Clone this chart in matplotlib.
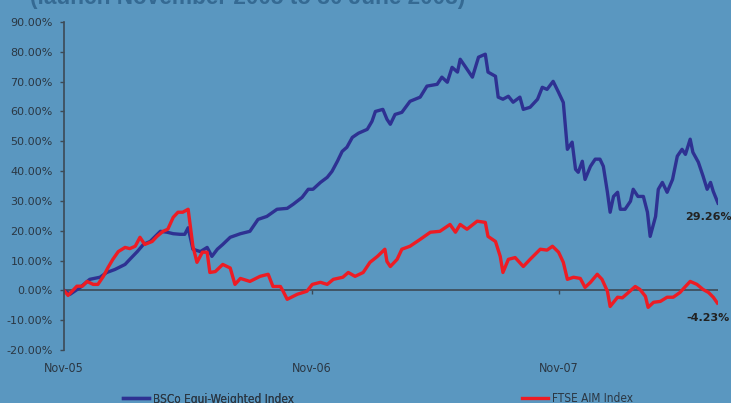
import matplotlib
matplotlib.use('Agg')
import matplotlib.pyplot as plt
import matplotlib.dates as mdates
import pandas as pd

# launch date and days since launch for each reading
launch = pd.Timestamp('2005-11-01')

bsco_days = [0, 9, 24, 38, 53, 63, 75, 90, 97, 108, 117, 127, 142, 152, 161, 171, 178, 183,
             190, 201, 211, 218, 226, 234, 245, 260, 274, 286, 299, 314, 329, 338, 351, 360,
             367, 378, 388, 395, 403, 410, 417, 425, 434, 447, 454, 459, 470, 476, 481, 488,
             498, 510, 525, 535, 550, 557, 565, 572, 580, 584, 591, 602, 611, 621, 625, 636,
             640, 647, 655, 662, 672, 677, 687, 698, 705, 712, 721, 729, 736, 742, 749, 754,
             758, 764, 768, 776, 783, 790, 795, 801, 805, 810, 816, 820, 827, 835, 839, 846,
             854, 860, 864, 872, 876, 882, 889, 897, 904, 911, 916, 923, 927, 935, 942, 948,
             953, 957, 964]
bsco_vals = [0, -1.3, 1.0, 3.7, 4.4, 6.0, 7.0, 8.7, 10.4, 13.0, 15.4, 16.4, 19.8, 19.5, 19.0,
             18.8, 18.8, 21.0, 13.8, 13.0, 14.4, 11.4, 13.8, 15.4, 17.8, 19.0, 19.8, 23.8, 24.8,
             27.2, 27.5, 28.9, 31.2, 33.9, 33.9, 36.2, 37.9, 39.9, 43.3, 46.6, 48.0, 51.3, 52.7,
             54.0, 56.7, 60.0, 60.7, 57.4, 55.7, 59.0, 59.7, 63.4, 64.8, 68.5, 69.1, 71.5, 69.8,
             74.8, 73.2, 77.5, 75.2, 71.5, 78.2, 79.2, 73.2, 71.8, 64.8, 64.1, 65.1, 63.1, 64.8,
             60.7, 61.4, 64.1, 68.1, 67.4, 70.1, 66.4, 63.0, 47.3, 49.7, 40.6, 39.6, 43.3, 37.2,
             41.6, 44.0, 44.0, 41.6, 32.9, 26.2, 31.5, 32.9, 27.2, 27.2, 29.9, 33.9, 31.5, 31.5,
             26.2, 18.1, 24.8, 33.9, 36.2, 32.9, 37.2, 45.0, 47.3, 45.6, 50.7, 46.3, 43.0, 38.3,
             33.9, 36.2, 33.2, 29.26]

aim_days = [0, 6, 19, 27, 34, 43, 50, 58, 65, 72, 80, 90, 97, 105, 112, 119, 130, 137, 146,
            153, 161, 168, 175, 183, 190, 196, 204, 211, 215, 223, 234, 245, 252, 260, 274,
            289, 301, 308, 319, 323, 329, 344, 358, 366, 378, 388, 397, 411, 419, 429, 441,
            451, 462, 473, 476, 481, 491, 498, 510, 525, 540, 554, 569, 577, 584, 594, 609,
            621, 625, 636, 643, 647, 655, 665, 677, 687, 702, 712, 720, 729, 736, 742, 751,
            761, 768, 776, 786, 793, 801, 805, 816, 823, 832, 842, 849, 857, 861, 869, 879,
            889, 898, 908, 916, 923, 933, 942, 950, 957, 963]
aim_vals = [0, -1.7, 1.4, 1.4, 3.0, 2.0, 2.0, 4.7, 7.7, 10.4, 13.0, 14.4, 14.0, 14.8, 17.8,
            15.4, 16.4, 18.1, 19.8, 20.5, 24.5, 26.2, 26.2, 27.2, 14.8, 9.4, 12.8, 12.8, 6.0,
            6.3, 8.7, 7.5, 2.0, 4.0, 3.0, 4.7, 5.4, 1.3, 1.3, -0.3, -3.0, -1.3, -0.3, 2.0, 2.7,
            2.0, 3.7, 4.4, 6.0, 4.7, 6.0, 9.4, 11.4, 13.8, 9.7, 8.0, 10.4, 13.8, 14.8, 17.1,
            19.5, 19.8, 22.1, 19.5, 22.1, 20.5, 23.2, 22.8, 18.1, 16.4, 11.4, 6.0, 10.4, 11.0,
            8.0, 10.4, 13.8, 13.5, 14.8, 12.8, 9.4, 3.7, 4.4, 4.0, 1.0, 2.7, 5.4, 3.7, -0.3,
            -5.4, -2.3, -2.5, -0.7, 1.3, 0.3, -2.0, -5.7, -4.0, -3.7, -2.3, -2.3, -0.7, 1.3,
            3.0, 2.0, 0.3, -0.7, -2.3, -4.23]

y_ticks = [-20, -10, 0, 10, 20, 30, 40, 50, 60, 70, 80, 90]
x_ticks = ['2005-11-01', '2006-11-01', '2007-11-01']
x_labels = ['Nov-05', 'Nov-06', 'Nov-07']

bg = '#5a97c0'
dark = '#2b3743'

bsco_dates = launch + pd.to_timedelta(bsco_days, unit='D')
aim_dates = launch + pd.to_timedelta(aim_days, unit='D')

fig = plt.figure(figsize=(7.31, 4.03), dpi=100)
fig.patch.set_facecolor(bg)
ax = fig.add_axes([64/731, 1 - 350/403, 654/731, 328/403])
ax.set_facecolor(bg)

l1, = ax.plot(bsco_dates, bsco_vals, color='#2e3192', lw=2.4, solid_joinstyle='round')
l2, = ax.plot(aim_dates, aim_vals, color='#ed1c24', lw=2.4, solid_joinstyle='round')

ax.axhline(0, color='#3c4a56', lw=1.2, zorder=1)
ax.set_xlim(launch, launch + pd.Timedelta(days=964))
ax.set_ylim(-20, 90)

for s in ['top', 'right', 'bottom']:
    ax.spines[s].set_visible(False)
ax.spines['left'].set_color('#3c4a56')
ax.spines['left'].set_linewidth(1.2)

ax.set_yticks(y_ticks)
ax.set_yticklabels(['{:.2f}%'.format(v) for v in y_ticks])
ax.tick_params(axis='y', length=3, width=1, color='#3c4a56', pad=5,
               labelsize=8, labelcolor=dark)

# x ticks sit on the zero line, labels at the bottom
ax.set_xticks([])
tick_dates = pd.to_datetime(x_ticks)
ax.vlines(tick_dates[1:], -1.3, 0, color='#3c4a56', lw=1)
for d, lab in zip(tick_dates, x_labels):
    ax.text(mdates.date2num(d), -0.056, lab, transform=ax.get_xaxis_transform(),
            ha='center', va='center', fontsize=9, color=dark,
            family='DejaVu Sans', fontstretch='condensed')

# end values
ax.annotate('{:.2f}%'.format(bsco_vals[-1]), (bsco_dates[-1], bsco_vals[-1]),
            xytext=(-7, -10), textcoords='offset points', ha='center', va='center',
            fontsize=8, fontweight='bold', color='#222222', annotation_clip=False)
ax.annotate('{:.2f}%'.format(aim_vals[-1]), (aim_dates[-1], aim_vals[-1]),
            xytext=(-7, -11), textcoords='offset points', ha='center', va='center',
            fontsize=8, fontweight='bold', color='#222222', annotation_clip=False)

fig.text(30/731, 1 - 4/403, '(launch November 2005 to 30 June 2008)', ha='left',
         va='baseline', fontsize=16.3, fontweight='bold', color='#356a93',
         family='Liberation Sans')

leg_font = {'family': 'DejaVu Sans', 'stretch': 'condensed', 'size': 8.5}
leg1 = fig.legend([l1], ['BSCo Equi-Weighted Index'], loc='center left',
                  bbox_to_anchor=(123/731, 1 - 399/403), frameon=False, borderpad=0,
                  borderaxespad=0, handlelength=2.2, handletextpad=0.3, prop=leg_font)
leg2 = fig.legend([l2], ['FTSE AIM Index'], loc='center left',
                  bbox_to_anchor=(522/731, 1 - 399/403), frameon=False, borderpad=0,
                  borderaxespad=0, handlelength=2.2, handletextpad=0.3, prop=leg_font)
for leg in (leg1, leg2):
    for t in leg.get_texts():
        t.set_color(dark)
fig.add_artist(leg1)

fig.savefig('out.png', dpi=100, facecolor=bg)
